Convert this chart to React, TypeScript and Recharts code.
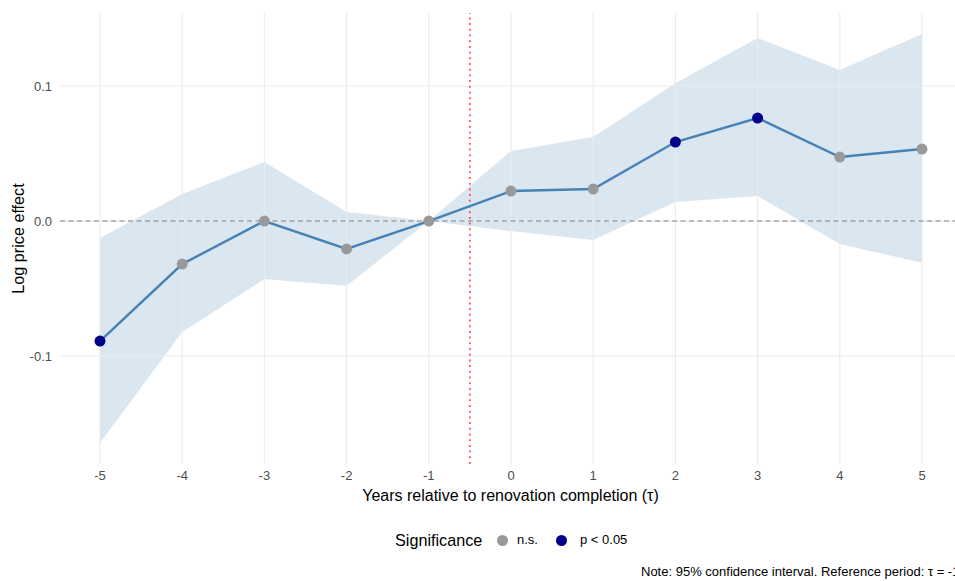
import React from 'react';
import { ComposedChart, Area, Line, XAxis, YAxis, ReferenceLine, Legend } from 'recharts';

const years = [-5, -4, -3, -2, -1, 0, 1, 2, 3, 4, 5];
const estimates = [-0.0889, -0.0319, 0, -0.0207, 0, 0.0222, 0.0237, 0.0585, 0.0763, 0.0474, 0.0533];
const ciLower = [-0.1644, -0.0822, -0.043, -0.048, 0, -0.0074, -0.0141, 0.0141, 0.0185, -0.017, -0.031];
const ciUpper = [-0.0126, 0.02, 0.0437, 0.0067, 0, 0.0519, 0.0622, 0.102, 0.1356, 0.1119, 0.1385];
const significance = ['p < 0.05', 'n.s.', 'n.s.', 'n.s.', 'n.s.', 'n.s.', 'n.s.', 'p < 0.05', 'p < 0.05', 'n.s.', 'n.s.'];
const xTicks = [-5, -4, -3, -2, -1, 0, 1, 2, 3, 4, 5];
const yTicks = [-0.1, 0, 0.1];
const legendLabels = ['n.s.', 'p < 0.05'];

const FONT = '"Liberation Sans", Arial, Helvetica, sans-serif';
const TITLE_SIZE = 16.2;
const TEXT_SIZE = 13;
const SIG_COLOR: Record<string, string> = { 'n.s.': '#999999', 'p < 0.05': '#00008B' };

const data = years.map((t, i) => ({
  tau: t,
  est: estimates[i],
  ci: [ciLower[i], ciUpper[i]],
  sig: significance[i],
}));

const renderDot = (p: any) => (
  <circle
    key={`dot-${p.index}`}
    cx={p.cx}
    cy={p.cy}
    r={5.5}
    fill={SIG_COLOR[significance[p.index]]}
    stroke="none"
  />
);

const renderLegend = () => (
  <div style={{ position: 'relative', width: 955, height: 56, fontFamily: FONT, color: '#000' }}>
    <span style={{ position: 'absolute', left: 395, top: 5, fontSize: TITLE_SIZE, lineHeight: '20px', whiteSpace: 'nowrap' }}>Significance</span>
    <span style={{ position: 'absolute', left: 496.5, top: 9.5, width: 11, height: 11, borderRadius: '50%', background: SIG_COLOR[legendLabels[0]] }} />
    <span style={{ position: 'absolute', left: 517, top: 6, fontSize: TEXT_SIZE, lineHeight: '18px', whiteSpace: 'nowrap' }}>{legendLabels[0]}</span>
    <span style={{ position: 'absolute', left: 555.5, top: 9.5, width: 11, height: 11, borderRadius: '50%', background: SIG_COLOR[legendLabels[1]] }} />
    <span style={{ position: 'absolute', left: 580, top: 6, fontSize: TEXT_SIZE, lineHeight: '18px', whiteSpace: 'nowrap' }}>{legendLabels[1]}</span>
    <span style={{ position: 'absolute', left: 641, top: 38, fontSize: TEXT_SIZE, lineHeight: '18px', whiteSpace: 'nowrap' }}>
      Note: 95% confidence interval. Reference period: τ = -1
    </span>
  </div>
);

const YLabel = (props: any) => {
  const vb = props.viewBox || {};
  const cx = 18;
  const cy = vb.y + vb.height / 2;
  return (
    <text
      x={cx}
      y={cy}
      transform={`rotate(-90, ${cx}, ${cy})`}
      textAnchor="middle"
      dominantBaseline="central"
      fontSize={TITLE_SIZE}
      fontFamily={FONT}
      fill="#000"
    >
      Log price effect
    </text>
  );
};

const XLabel = (props: any) => {
  const vb = props.viewBox || {};
  const cx = vb.x + vb.width / 2 + 3;
  return (
    <text x={cx} y={495} textAnchor="middle" dominantBaseline="central" fontSize={16} fontFamily={FONT} fill="#000">
      Years relative to renovation completion (τ)
    </text>
  );
};

const fmtY = (v: number) => (v === 0 ? '0.0' : v.toFixed(1));

export default function App() {
  return (
    <div style={{ position: 'absolute', left: 0, top: 0, width: 955, height: 581, overflow: 'hidden', background: '#fff' }}>
      <ComposedChart
        width={955}
        height={581}
        data={data}
        margin={{ top: 13, right: 0, left: 10, bottom: 21 }}
        style={{ fontFamily: FONT }}
      >
        <XAxis
          dataKey="tau"
          type="number"
          domain={[-5.4866, 5.4015]}
          allowDataOverflow
          ticks={xTicks}
          interval={0}
          axisLine={false}
          tickLine={false}
          tickSize={5}
          tickMargin={2}
          height={40}
          tick={{ fill: '#4d4d4d', fontSize: TEXT_SIZE, fontFamily: FONT }}
          label={<XLabel />}
        />
        <YAxis
          type="number"
          domain={[-0.18, 0.1541]}
          allowDataOverflow
          ticks={yTicks}
          interval={0}
          tickFormatter={fmtY}
          axisLine={false}
          tickLine={false}
          tickSize={6}
          tickMargin={2}
          width={50}
          tick={{ fill: '#4d4d4d', fontSize: TEXT_SIZE, fontFamily: FONT }}
          label={<YLabel />}
        />
        {xTicks.map((t) => (
          <ReferenceLine key={`gx${t}`} x={t} stroke="#ebebeb" strokeWidth={1.1} />
        ))}
        {yTicks.map((t) => (
          <ReferenceLine key={`gy${t}`} y={t} stroke="#ebebeb" strokeWidth={1.1} />
        ))}
        <Area
          dataKey="ci"
          type="linear"
          fill="#4682B4"
          fillOpacity={0.2}
          stroke="none"
          isAnimationActive={false}
          legendType="none"
          activeDot={false}
        />
        <ReferenceLine y={0} stroke="#808080" strokeWidth={1.1} strokeDasharray="5 3.5" />
        <ReferenceLine x={-0.5} stroke="#ff2020" strokeWidth={1.3} strokeDasharray="2 3.7" />
        <Line
          dataKey="est"
          type="linear"
          stroke="#4682B4"
          strokeWidth={2.4}
          dot={renderDot}
          activeDot={false}
          isAnimationActive={false}
        />
        <Legend verticalAlign="bottom" content={renderLegend} wrapperStyle={{ left: 0, top: 525, width: 955 }} />
      </ComposedChart>
    </div>
  );
}
